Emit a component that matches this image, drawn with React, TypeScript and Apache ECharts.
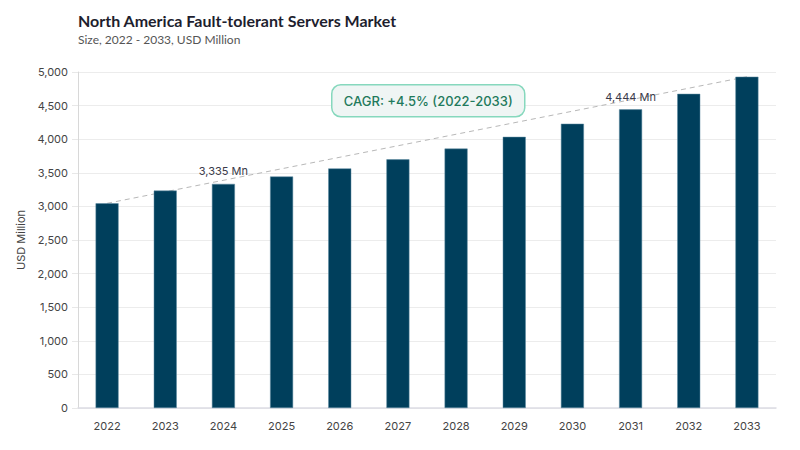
import React, { useEffect, useRef } from "react";
import * as echarts from "echarts";

const years = ["2022", "2023", "2024", "2025", "2026", "2027", "2028", "2029", "2030", "2031", "2032", "2033"];
const marketSize = [3046, 3235, 3335, 3445, 3565, 3700, 3860, 4035, 4230, 4444, 4675, 4930];
const labeledYears = ["2024", "2031"];
const titleText = "North America Fault-tolerant Servers Market";
const subtitleText = "Size, 2022 - 2033, USD Million";
const cagrText = "CAGR: +4.5% (2022-2033)";

const FONT = "Inter, 'Noto Sans', sans-serif";
const TITLE_FONT = "Lato, Inter, sans-serif";

export default function App() {
  const ref = useRef<HTMLDivElement>(null);
  useEffect(() => {
    document.body.style.margin = "0";
    if (!ref.current) return;
    const chart = echarts.init(ref.current, undefined, { renderer: "svg" });
    const first = marketSize[0];
    const last = marketSize[marketSize.length - 1];
    chart.setOption({
      animation: false,
      backgroundColor: "#ffffff",
      textStyle: { fontFamily: FONT },
      title: {
        text: titleText,
        subtext: subtitleText,
        left: 73,
        top: 7,
        itemGap: 5,
        textStyle: { fontSize: 16, fontWeight: 700, color: "#1e1e2e", fontFamily: TITLE_FONT },
        subtextStyle: { fontSize: 12, color: "#555555", fontFamily: TITLE_FONT },
      },
      grid: { left: 78, right: 24, top: 72, bottom: 42 },
      xAxis: {
        type: "category",
        data: years,
        axisLine: { lineStyle: { color: "#dcdce4", width: 1.5 } },
        axisTick: { show: false },
        axisLabel: { color: "#444444", fontSize: 11, margin: 12, fontFamily: FONT },
      },
      yAxis: {
        type: "value",
        min: 0,
        max: 5000,
        interval: 500,
        name: "USD Million",
        nameLocation: "middle",
        nameGap: 52,
        nameTextStyle: { color: "#444444", fontSize: 11, fontFamily: FONT },
        axisLine: { show: true, lineStyle: { color: "#d8d8d8" } },
        axisTick: { show: true, length: 6, lineStyle: { color: "#e8e8e8" } },
        axisLabel: {
          color: "#444444",
          fontSize: 11,
          margin: 10,
          fontFamily: FONT,
          formatter: (v: number) => v.toLocaleString("en-US"),
        },
        splitLine: { lineStyle: { color: "#ececec" } },
      },
      series: [
        {
          type: "bar",
          barWidth: 23,
          z: 2,
          data: marketSize.map((v, i) => ({
            value: v,
            label: {
              show: labeledYears.includes(years[i]),
              position: "top",
              distance: 7,
              color: "#3a3a4a",
              fontSize: 11,
              fontFamily: FONT,
              formatter: (p: any) => `${Number(p.value).toLocaleString("en-US")} Mn`,
            },
          })),
          itemStyle: { color: "#003f5c", borderColor: "#5d8aa0", borderWidth: 0.5 },
          markLine: {
            silent: true,
            symbol: "none",
            z: 1,
            label: { show: false },
            lineStyle: { color: "#b8b8b8", type: [5, 4], width: 1 },
            data: [
              [
                { coord: [years[0], first] },
                { coord: [years[years.length - 1], last] },
              ],
            ],
          },
        },
      ],
      graphic: [
        {
          type: "group",
          left: 331,
          top: 84,
          z: 100,
          children: [
            {
              type: "rect",
              z: 100,
              shape: { x: 0, y: 0, width: 193, height: 32, r: 9 },
              style: { fill: "#eff5f4", stroke: "#86d8bd", lineWidth: 1.5 },
            },
            {
              type: "text",
              z: 101,
              x: 96.5,
              y: 16,
              style: {
                text: cagrText,
                fill: "#1f7a5c",
                font: `500 13px ${FONT}`,
                align: "center",
                verticalAlign: "middle",
              },
            },
          ],
        },
      ],
    });
    return () => chart.dispose();
  }, []);
  return <div ref={ref} style={{ width: 800, height: 450 }} />;
}
